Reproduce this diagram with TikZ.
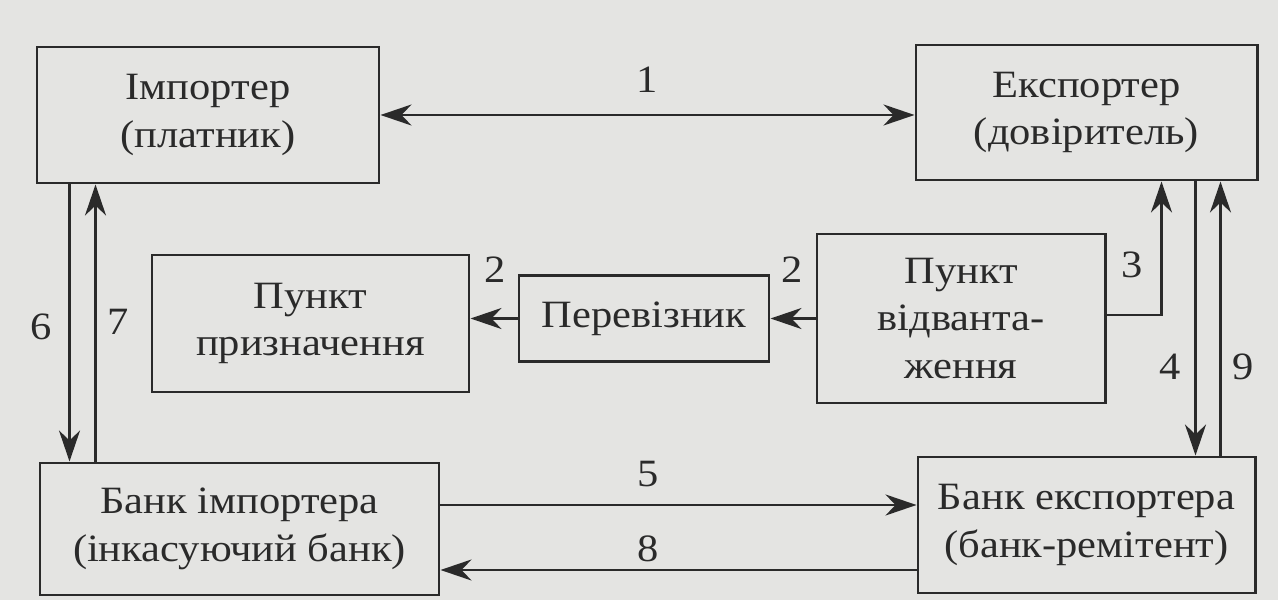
\documentclass[tikz,border=0pt]{standalone}
\usepackage{fontspec}
\setmainfont[FakeStretch=1.1]{Liberation Serif}
\usetikzlibrary{arrows.meta}
\definecolor{paper}{RGB}{228,228,226}
\definecolor{ink}{RGB}{42,42,42}

\begin{document}
\begin{tikzpicture}[>={Stealth[length=0.62cm,width=0.42cm,inset=0.2cm]},
	font=\fontsize{22}{27}\selectfont,
	box/.style={draw=ink,line width=1.7pt,align=center,inner sep=0pt,text=ink},
	flow/.style={draw=ink,line width=1.7pt},
	num/.style={text=ink,inner sep=1pt}]
\useasboundingbox (0,0) rectangle (25.56,12);
\fill[paper] (0,0) rectangle (25.56,12);
% boxes
\node[box,minimum width=6.84cm,minimum height=2.72cm] (imp) at (4.16,9.70) {Імпортер\\(платник)};
\node[box,minimum width=6.82cm,minimum height=2.70cm] (exp) at (21.73,9.75) {Експортер\\(довіритель)};
\node[box,minimum width=6.34cm,minimum height=2.74cm] (dest) at (6.21,5.53) {Пункт\\призначення};
\node[box,minimum width=5.00cm,minimum height=1.72cm] (carr) at (12.88,5.63) {Перевізник};
\node[box,minimum width=5.76cm,minimum height=3.38cm] (ship) at (19.22,5.63) {Пункт\\відванта-\\ження};
\node[box,minimum width=7.98cm,minimum height=2.64cm] (bimp) at (4.79,1.42) {Банк імпортера\\(інкасуючий банк)};
\node[box,minimum width=6.74cm,minimum height=2.72cm] (bexp) at (21.73,1.50) {Банк експортера\\(банк-ремітент)};
% connectors
\draw[flow,<->] (imp.east) -- (imp.east -| exp.west);
\draw[flow,->] (ship) -- (carr);
\draw[flow,->] (carr.west) -- (carr.west -| dest.east);
\draw[flow,->] ([yshift=0.07cm]ship.east) -| ([xshift=4.94cm]exp.south west);
\draw[flow,->] ([xshift=5.62cm]exp.south west) -- ([xshift=5.62cm]exp.south west |- bexp.north);
\draw[flow,->] ([xshift=6.12cm]exp.south west |- bexp.north) -- ([xshift=6.12cm]exp.south west);
\draw[flow,->] ([yshift=0.48cm]bimp.east) -- ([yshift=0.48cm]bimp.east -| bexp.west);
\draw[flow,->] ([yshift=-0.82cm]bimp.east -| bexp.west) -- ([yshift=-0.82cm]bimp.east);
\draw[flow,->] ([xshift=0.68cm]imp.south west) -- ([xshift=0.68cm]imp.south west |- bimp.north);
\draw[flow,->] ([xshift=1.20cm]imp.south west |- bimp.north) -- ([xshift=1.20cm]imp.south west);
% numbers
\node[num] (n1) at (12.94,10.40) {1};
\node[num] (n2a) at (9.90,6.60) {2};
\node[num] (n2b) at (15.84,6.60) {2};
\node[num] (n3) at (22.64,6.70) {3};
\node[num] (n4) at (23.40,4.66) {4};
\node[num] (n9) at (24.86,4.66) {9};
\node[num] (n5) at (12.96,2.52) {5};
\node[num] (n8) at (12.96,1.02) {8};
\node[num] (n6) at (0.82,5.46) {6};
\node[num] (n7) at (2.36,5.56) {7};
\end{tikzpicture}
\end{document}
